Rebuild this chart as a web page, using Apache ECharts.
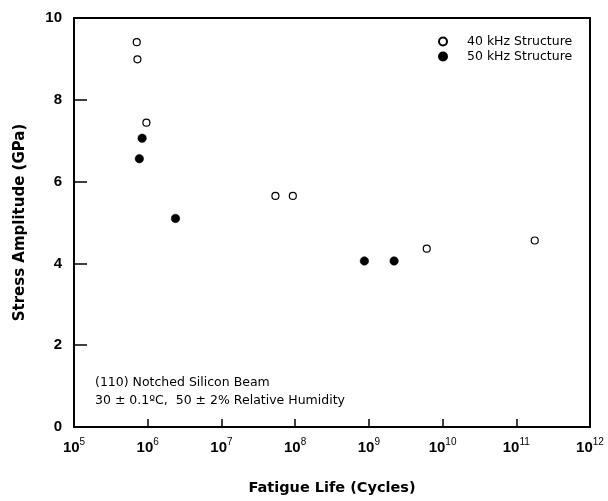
<!DOCTYPE html>
<html>
<head>
<meta charset="utf-8">
<script src="https://cdn.jsdelivr.net/npm/echarts@6/dist/echarts.min.js"></script>
<style>html,body{margin:0;padding:0;background:#fff;}#c{width:608px;height:501px;}</style>
</head>
<body>
<div id="c"></div>
<script>
// 40 kHz Structure (open circles): [cycles, stress GPa]
const cycles40 = [7.1e5, 7.25e5, 9.6e5, 5.4e7, 9.3e7, 6.1e9, 1.78e11];
const stress40 = [9.41, 8.99, 7.44, 5.65, 5.65, 4.36, 4.56];
// 50 kHz Structure (filled circles)
const cycles50 = [8.4e5, 7.7e5, 2.38e6, 8.7e8, 2.2e9];
const stress50 = [7.06, 6.56, 5.10, 4.06, 4.06];
const yTicks = [0, 2, 4, 6, 8, 10];
const xExponents = [5, 6, 7, 8, 9, 10, 11, 12];
const seriesNames = ['40 kHz Structure', '50 kHz Structure'];
const noteLines = ['(110) Notched Silicon Beam', '30 \u00b1 0.1\u00baC,  50 \u00b1 2% Relative Humidity'];

const FONT = '"Liberation Sans", Arial, Helvetica, sans-serif';
const WIDE = '"DejaVu Sans", "Liberation Sans", sans-serif';
const chart = echarts.init(document.getElementById('c'), null, {renderer: 'canvas'});

const d40 = cycles40.map((c, i) => [c, stress40[i]]);
const d50 = cycles50.map((c, i) => [c, stress50[i]]);

chart.setOption({
  animation: false,
  backgroundColor: '#ffffff',
  grid: {left: 74, top: 18, right: 18, bottom: 72, containLabel: false,
         show: true, borderColor: '#000', borderWidth: 2, backgroundColor: 'transparent'},
  legend: {
    left: 433, top: 30, orient: 'vertical', itemGap: 2, itemWidth: 10, itemHeight: 8,
    data: [{name: seriesNames[0], icon: 'circle'}, {name: seriesNames[1], icon: 'circle'}],
    textStyle: {fontFamily: WIDE, fontSize: 12.5, color: '#000', padding: [0, 0, 0, 14], lineHeight: 13},
    selectedMode: false
  },
  xAxis: {
    type: 'log', logBase: 10, min: 1e5, max: 1e12, splitNumber: 7,
    name: 'Fatigue Life (Cycles)', nameLocation: 'middle', nameGap: 54,
    nameTextStyle: {fontFamily: WIDE, fontSize: 14.5, fontWeight: 'bold', color: '#000'},
    axisLine: {show: true, lineStyle: {color: '#000', width: 2}},
    axisTick: {show: true, inside: true, length: 8, lineStyle: {color: '#000', width: 1.5}},
    splitLine: {show: false},
    minorTick: {show: false},
    axisLabel: {
      margin: 10, color: '#000',
      formatter: function (v) {
        const e = Math.round(Math.log10(v));
        return '{b|10}{s|' + e + '}';
      },
      rich: {
        b: {fontFamily: FONT, fontSize: 15, fontWeight: 'bold', color: '#000', verticalAlign: 'bottom', lineHeight: 18},
        s: {fontFamily: FONT, fontSize: 10, color: '#000', verticalAlign: 'top', lineHeight: 18, padding: [0, 0, 7, 0]}
      }
    }
  },
  yAxis: {
    type: 'value', min: 0, max: 10, interval: 2,
    name: 'Stress Amplitude (GPa)', nameLocation: 'middle', nameGap: 46, nameRotate: 90,
    nameTextStyle: {fontFamily: WIDE, fontSize: 15, fontWeight: 'bold', color: '#000'},
    axisLine: {show: true, lineStyle: {color: '#000', width: 2}},
    axisTick: {show: true, inside: true, length: 13, lineStyle: {color: '#000', width: 1.5}},
    splitLine: {show: false},
    axisLabel: {margin: 12, fontFamily: FONT, fontSize: 15, fontWeight: 'bold', color: '#000'}
  },
  series: [
    {name: seriesNames[0], type: 'scatter', data: d40, symbol: 'circle', symbolSize: 7,
     itemStyle: {color: '#fff', borderColor: '#000', borderWidth: 1.2, opacity: 1}},
    {name: seriesNames[1], type: 'scatter', data: d50, symbol: 'circle', symbolSize: 8.5,
     itemStyle: {color: '#000', borderColor: '#000', borderWidth: 0.5, opacity: 1}}
  ],
  graphic: [{
    type: 'text', left: 95, top: 374,
    style: {text: noteLines.join('\n'), fontFamily: WIDE, fontSize: 12.5, lineHeight: 18, fill: '#000'}
  }]
});
</script>
</body>
</html>
